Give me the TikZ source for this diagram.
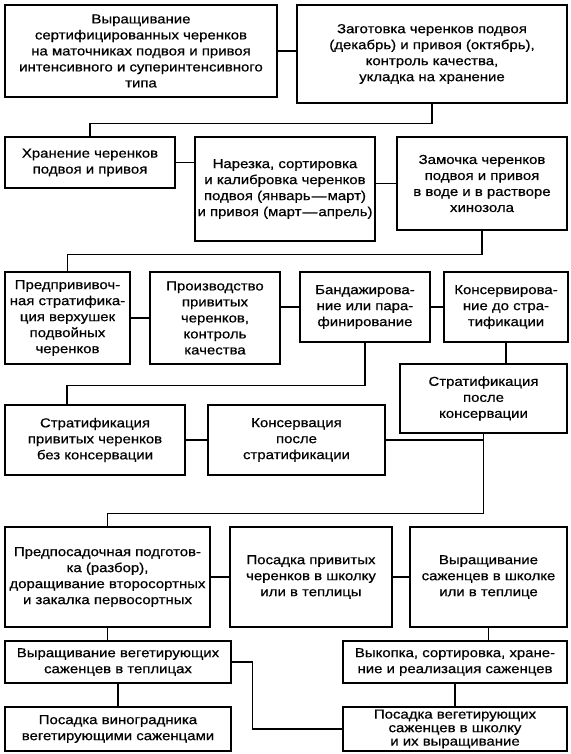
\documentclass[tikz,border=0pt]{standalone}
\usepackage{fontspec}
\setmainfont{Liberation Sans}[FakeStretch=1.15, FakeBold=0.6]
\usetikzlibrary{positioning}
\tikzset{
  blk/.style={draw, line width=1.2pt, align=center, inner xsep=2pt, inner ysep=2pt,
    font=\fontsize{13}{16}\selectfont},
  lnk/.style={line width=1.2pt}
}

\begin{document}
\begin{tikzpicture}[x=1pt, y=1pt]
\useasboundingbox (0,0) rectangle (570,-754);
% row 1
\node[blk, minimum width=272pt, minimum height=92pt] (vyr) at (141,-51) {Выращивание\\сертифицированных черенков\\на маточниках подвоя и привоя\\интенсивного и суперинтенсивного\\типа};
\node[blk, minimum width=270pt, minimum height=98pt] (zag) at (432,-54) {Заготовка черенков подвоя\\(декабрь) и привоя (октябрь),\\контроль качества,\\укладка на хранение};
% row 2
\node[blk, minimum width=170pt, minimum height=51pt] (hran) at (90,-162.5) {Хранение черенков\\подвоя и привоя};
\node[blk, minimum width=180pt, minimum height=104pt] (narez) at (285,-189) {Нарезка, сортировка\\и калибровка черенков\\подвоя (январь\hspace{1pt}—\hspace{1pt}март)\\и привоя (март\hspace{1pt}—\hspace{1pt}апрель)};
\node[blk, minimum width=170pt, minimum height=93pt] (zam) at (482,-183.5) {Замочка черенков\\подвоя и привоя\\в воде и в растворе\\хинозола};
% row 3
\node[blk, minimum width=125pt, minimum height=92pt] (predpr) at (67.5,-318) {Предпрививоч-\\ная стратифика-\\ция верхушек\\подвойных\\черенков};
\node[blk, minimum width=130pt, minimum height=92pt] (proizv) at (215,-318) {Производство\\привитых\\черенков,\\контроль\\качества};
\node[blk, minimum width=130pt, minimum height=70pt] (band) at (365,-307) {Бандажирова-\\ние или пара-\\финирование};
\node[blk, minimum width=124pt, minimum height=70pt] (kons) at (506,-307) {Консервирова-\\ние до стра-\\тификации};
% row 4
\node[blk, minimum width=167pt, minimum height=69pt] (stratpk) at (483.5,-398.5) {Стратификация\\после\\консервации};
\node[blk, minimum width=180pt, minimum height=70pt] (stratbk) at (95,-440) {Стратификация\\привитых черенков\\без консервации};
\node[blk, minimum width=177pt, minimum height=70pt] (konsps) at (296.5,-440) {Консервация\\после\\стратификации};
% row 5
\node[blk, minimum width=205pt, minimum height=100pt] (predpos) at (107.5,-577) {Предпосадочная подготов-\\ка (разбор),\\доращивание второсортных\\и закалка первосортных};
\node[blk, minimum width=162pt, minimum height=100pt] (posad) at (311,-577) {Посадка привитых\\черенков в школку\\или в теплицы};
\node[blk, minimum width=157pt, minimum height=100pt] (vyrsaz) at (488.5,-577) {Выращивание\\саженцев в школке\\или в теплице};
% row 6
\node[blk, minimum width=226pt, minimum height=42pt] (vyrveg) at (118,-662) {Выращивание вегетирующих\\саженцев в теплицах};
\node[blk, minimum width=224pt, minimum height=42pt] (vykop) at (455,-662) {Выкопка, сортировка, хране-\\ние и реализация саженцев};
\node[blk, minimum width=226pt, minimum height=44pt] (posvin) at (118,-729) {Посадка виноградника\\вегетирующими саженцами};
\node[blk, minimum width=224pt, minimum height=44pt, inner ysep=0pt,
  font=\fontsize{13}{13.5}\selectfont] (posveg) at (455,-729) {Посадка вегетирующих\\саженцев в школку\\и их выращивание};

% connectors
\draw[lnk] (vyr.east) -- (vyr.east -| zag.west);
\draw[lnk] (zag.south) -- ++(0,-20) -| (hran.north);
\draw[lnk] (hran.east) -- (hran.east -| narez.west);
\draw[lnk] (zam.west -| narez.east) -- (zam.west);
\draw[lnk] (zam.south) -- ++(0,-24) -| (predpr.north);
\draw[lnk] (predpr.east) -- (proizv.west);
\draw[lnk] (band.west -| proizv.east) -- (band.west);
\draw[lnk] (band.east) -- (kons.west);
\draw[lnk] (band.south) -- ++(0,-43) -| ([xshift=-28pt]stratbk.north);
\draw[lnk] (kons.south) -- (kons.south |- stratpk.north);
\draw[lnk] (stratbk.east) -- (konsps.west);
\draw[lnk] (konsps.east) -- (konsps.east -| stratpk.south);
\draw[lnk] (stratpk.south) -- ++(0,-80) -| (predpos.north);
\draw[lnk] (predpos.east) -- (posad.west);
\draw[lnk] (posad.east) -- (vyrsaz.west);
\draw[lnk] (predpos.south) -- (predpos.south |- vyrveg.north);
\draw[lnk] (vyrsaz.south) -- (vyrsaz.south |- vykop.north);
\draw[lnk] (vyrveg.south) -- (posvin.north);
\draw[lnk] (vykop.south) -- (posveg.north);
\draw[lnk] (vyrveg.east) -- ++(21,0) |- (posveg.west);
\end{tikzpicture}
\end{document}
